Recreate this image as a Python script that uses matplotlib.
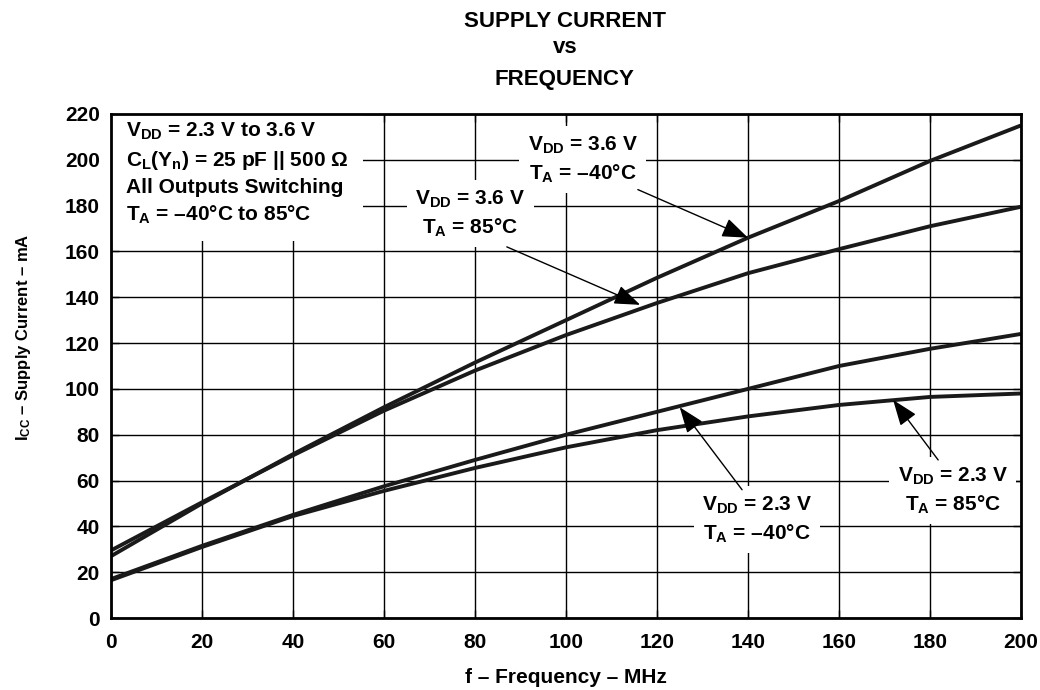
import matplotlib
matplotlib.use('Agg')
import matplotlib.pyplot as plt

plt.rcParams['font.family'] = ['Liberation Sans', 'DejaVu Sans']
plt.rcParams['font.weight'] = 'bold'
plt.rcParams['mathtext.fontset'] = 'custom'
plt.rcParams['mathtext.rm'] = 'Liberation Sans:bold'
plt.rcParams['mathtext.it'] = 'Liberation Sans:bold'
plt.rcParams['mathtext.bf'] = 'Liberation Sans:bold'

# frequency (MHz) and supply current (mA)
freq = [0, 20, 40, 60, 80, 100, 120, 140, 160, 180, 200]
icc_36_m40 = [27, 50, 71.5, 92, 111.5, 130, 148.5, 166, 182, 199.5, 215]
icc_36_85 = [29.5, 50.5, 71, 90.5, 108, 123.5, 137.5, 150.5, 161, 171, 179.5]
icc_23_m40 = [17, 31.5, 45, 57.5, 69, 80, 90, 100, 110, 117.5, 124]
icc_23_85 = [16.5, 31, 44.5, 55.5, 65.5, 74.5, 82, 88, 93, 96.5, 98]

x_ticks = list(range(0, 201, 20))
y_ticks = list(range(0, 221, 20))

fig = plt.figure(figsize=(10.4, 6.9), dpi=100)
ax = fig.add_axes([0.1067, 0.1043, 0.875, 0.7305])

for s in (icc_36_m40, icc_36_85, icc_23_m40, icc_23_85):
    ax.plot(freq, s, color='#1a1a1a', lw=2.8, zorder=3, solid_capstyle='butt')

ax.set_xlim(0, 200)
ax.set_ylim(0, 220)
ax.set_xticks(x_ticks)
ax.set_yticks(y_ticks)
ax.grid(True, color='black', lw=1, zorder=1)
ax.tick_params(direction='in', length=6, width=1, top=True, right=True,
               labelsize=15)
ax.tick_params(axis='x', pad=11)
ax.tick_params(axis='y', pad=8)
for lab in ax.get_xticklabels() + ax.get_yticklabels():
    lab.set_fontweight('bold')
for sp in ax.spines.values():
    sp.set_linewidth(2)
    sp.set_zorder(5)

ax.set_xlabel('f – Frequency – MHz', fontsize=15, fontweight='bold')
ax.set_ylabel(r'I$_\mathrm{CC}$ – Supply Current – mA', fontsize=12,
              fontweight='bold')
ax.xaxis.set_label_coords(0.5, -0.1)
ax.yaxis.set_label_coords(-0.0857, 0.556)

for txt, yy in [('SUPPLY CURRENT', 0.9609), ('vs', 0.9232), ('FREQUENCY', 0.8768)]:
    fig.text(0.543, yy, txt, ha='center', va='baseline', fontsize=16,
             fontweight='bold')

box = dict(facecolor='white', edgecolor='none', pad=6)
kw = dict(fontsize=15, fontweight='bold', zorder=4, linespacing=1.4)

ax.text(3.2, 217, 'V$_\\mathrm{DD}$ = 2.3 V to 3.6 V\n'
        'C$_\\mathrm{L}$(Y$_\\mathrm{n}$) = 25 pF || 500 Ω\n'
        'All Outputs Switching\n'
        'T$_\\mathrm{A}$ = –40°C to 85°C',
        ha='left', va='top', bbox=dict(facecolor='white', edgecolor='none', pad=11), **kw)

ax.text(103.7, 200, 'V$_\\mathrm{DD}$ = 3.6 V\nT$_\\mathrm{A}$ = –40°C',
        ha='center', va='center', bbox=box, **kw)
ax.text(79, 176.5, 'V$_\\mathrm{DD}$ = 3.6 V\nT$_\\mathrm{A}$ = 85°C',
        ha='center', va='center', bbox=box, **kw)
ax.text(142, 43, 'V$_\\mathrm{DD}$ = 2.3 V\nT$_\\mathrm{A}$ = –40°C',
        ha='center', va='center', bbox=box, **kw)
ax.text(185, 55.5, 'V$_\\mathrm{DD}$ = 2.3 V\nT$_\\mathrm{A}$ = 85°C',
        ha='center', va='center', bbox=box, **kw)

arrow = dict(arrowstyle='-|>,head_length=0.8,head_width=0.3', color='black',
             lw=1, mutation_scale=20, shrinkA=0, shrinkB=0)
for tip, start in [((140, 166), (115.8, 187)),
                   ((116.3, 136.7), (87, 162)),
                   ((125, 92), (138.7, 56)),
                   ((171.9, 95.2), (181.8, 69))]:
    ax.annotate('', xy=tip, xytext=start, arrowprops=arrow, zorder=4)

fig.savefig('out.png', dpi=100)
